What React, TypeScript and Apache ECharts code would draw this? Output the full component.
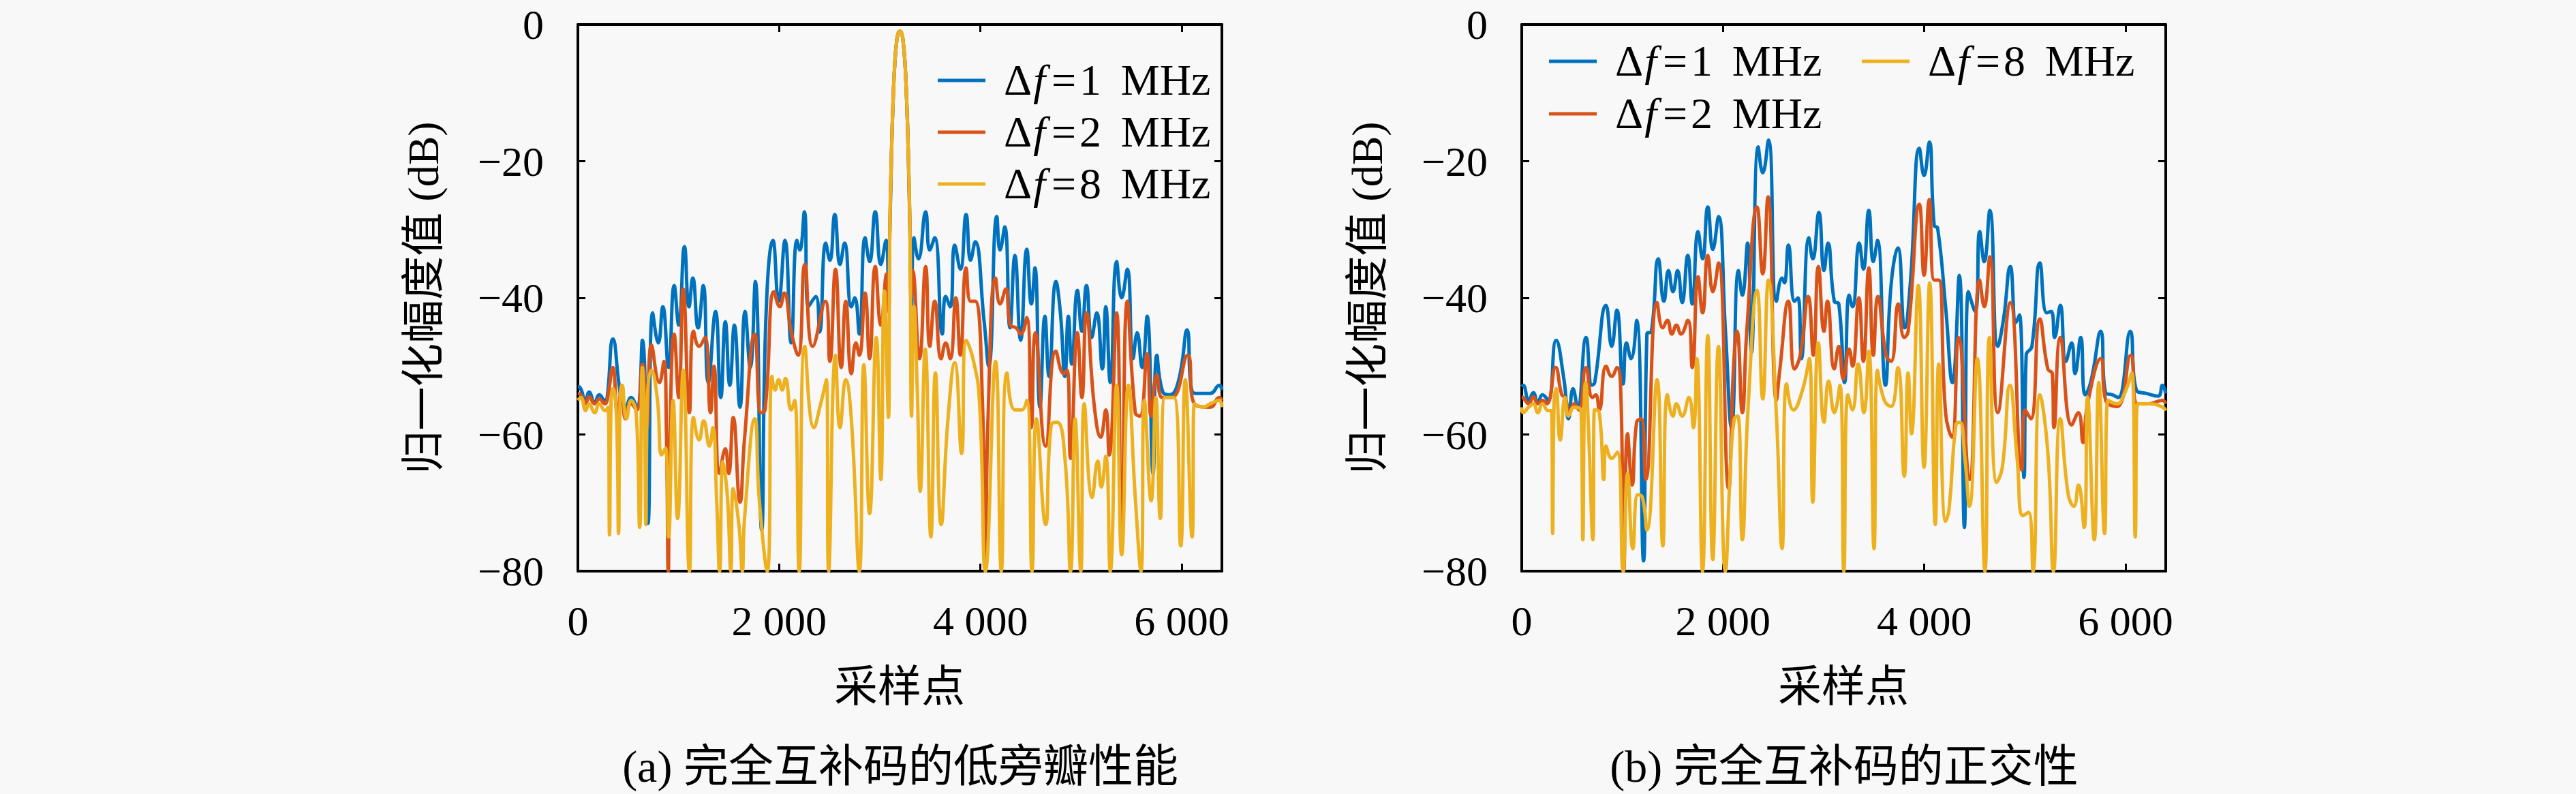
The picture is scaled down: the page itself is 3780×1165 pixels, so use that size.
import React, { useEffect, useRef } from "react";
import * as echarts from "echarts";

// ---- data: [sample index, normalized amplitude dB] ----
const seriesNames = ["Δf=1 MHz", "Δf=2 MHz", "Δf=8 MHz"];
const seriesColors = ["#0072BD", "#D95319", "#EDB120"];

const xTicks = [0, 2000, 4000, 6000];
const yTicks = [-80, -60, -40, -20, 0];

// main lobe shared by all three curves in (a)
const mainLobe = [
  [3100, -30], [3118, -18], [3133, -11], [3150, -5.5], [3170, -2.2], [3185, -1.2], [3200, -1],
  [3215, -1.2], [3230, -2.2], [3250, -5.5], [3267, -11], [3282, -18], [3300, -30],
];

// (a) 完全互补码的低旁瓣性能
const aDf1Left = [
  [0, -53], [20, -53.1], [77, -55], [111, -53.8], [167, -55.3], [212, -54.2], [269, -55], [291, -54.6],
  [348, -46], [427, -54.5], [472, -56], [528, -54.6], [585, -56], [641, -46.2], [697, -73], [743, -42.2],
  [799, -46.6], [844, -41.3], [901, -50.2], [957, -38.2], [1002, -44], [1059, -32.5], [1104, -41.3],
  [1142, -37.1], [1194, -44.4], [1246, -38.2], [1296, -52.4], [1368, -42], [1420, -54.6], [1465, -43.5],
  [1510, -52.8], [1555, -44], [1611, -56], [1661, -42], [1713, -50.2], [1763, -37.6], [1826, -74],
  [1871, -42], [1939, -31.6], [1995, -40.5], [2058, -31.6], [2119, -46.6], [2176, -31.6], [2205, -33],
  [2251, -27.4], [2290, -41.3], [2364, -39.8], [2402, -45], [2463, -32], [2504, -34.5], [2553, -27.8],
  [2605, -35.1], [2650, -32], [2718, -41.3], [2752, -40], [2797, -45.3], [2854, -31.2], [2899, -34.7],
  [2955, -27.4], [3011, -35.1], [3063, -31.6], [3085, -37],
];
const aDf1Right = [
  [3316, -41.3], [3339, -31.2], [3384, -34.3], [3456, -27.4], [3497, -33], [3546, -31.2], [3621, -45.3],
  [3655, -39.8], [3700, -41.3], [3745, -32.3], [3801, -35.8], [3858, -27.8], [3903, -34.5], [3948, -31.8],
  [4038, -43.6], [4083, -50], [4163, -28.1], [4196, -33], [4242, -29.6], [4294, -44.4], [4343, -33.8],
  [4400, -46.2], [4461, -32.9], [4506, -40.9], [4542, -35.6], [4592, -56], [4641, -42.7], [4682, -51.5],
  [4750, -37.6], [4795, -42.2], [4840, -51.5], [4874, -42.7], [4908, -49.7], [4964, -38.9], [5009, -44.9],
  [5054, -38.2], [5106, -45.8], [5156, -42.2], [5212, -50.4], [5246, -41.3], [5291, -52.4], [5354, -34.7],
  [5404, -40], [5460, -35.8], [5517, -48.9], [5558, -45.1], [5607, -50.2], [5657, -42.7], [5716, -65.7],
  [5754, -48.4], [5810, -53.7], [5878, -54.2], [5968, -52.2], [6054, -44.7], [6104, -53.7], [6171, -54],
  [6284, -54], [6375, -52.8], [6400, -53.5],
];

const aDf2Left = [
  [0, -54], [30, -54.2], [77, -55.5], [111, -54.5], [167, -55.5], [212, -54.8], [269, -55.5], [291, -55],
  [348, -50.2], [393, -56.8], [438, -52.8], [472, -57.7], [528, -55.5], [585, -56.4], [641, -49.7],
  [686, -59], [731, -46.9], [810, -52.4], [855, -49.3], [880, -60], [898, -80], [915, -60], [957, -45.3],
  [1002, -54.6], [1047, -38.7], [1108, -56.8], [1149, -44.9], [1205, -47.1], [1262, -45.8], [1318, -56.8],
  [1352, -50], [1408, -65.7], [1465, -62.1], [1499, -65.7], [1544, -57.5], [1611, -69.9], [1656, -60.6],
  [1758, -45.3], [1819, -56.8], [1860, -56.4], [1950, -39.1], [2006, -41.3], [2051, -39.3], [2119, -44.9],
  [2188, -48.4], [2255, -35.1], [2334, -47.1], [2459, -40.5], [2504, -49.3], [2560, -35.8], [2617, -50.2],
  [2662, -40.5], [2718, -51.1], [2763, -46.6], [2797, -48.4], [2854, -39.3], [2899, -48.9], [2955, -35.4],
  [3011, -44], [3068, -36.5], [3088, -42],
];
const aDf2Right = [
  [3312, -40], [3327, -36], [3395, -48.9], [3456, -35.4], [3497, -47.1], [3546, -40.5], [3610, -48.9],
  [3655, -46.6], [3700, -48.9], [3756, -40], [3801, -48.4], [3858, -35.6], [3903, -40.5], [3948, -40.5],
  [4020, -55], [4050, -80], [4075, -58], [4151, -37.1], [4196, -40.9], [4253, -38.7], [4298, -44],
  [4355, -44.4], [4400, -45.3], [4461, -42.9], [4506, -59], [4546, -45.1], [4648, -61.7], [4750, -47.8],
  [4829, -51.1], [4862, -50.6], [4896, -63.5], [4964, -45.1], [5009, -54.6], [5054, -42.2], [5133, -56],
  [5196, -60.4], [5246, -56.4], [5280, -63], [5354, -42.2], [5404, -76], [5460, -40.5], [5539, -56.8],
  [5585, -57.3], [5657, -48.2], [5697, -57.3], [5754, -51.3], [5810, -54.6], [5900, -54.6], [6059, -48.4],
  [6126, -55.5], [6284, -56], [6375, -54.6], [6400, -55],
];

const aDf8Left = [
  [0, -55], [30, -54.6], [77, -56.5], [111, -55.5], [167, -56.8], [212, -55.5], [269, -56.5], [300, -56],
  [314, -74.7], [330, -55], [348, -53.3], [385, -58], [404, -74.5], [418, -56], [438, -52.8], [483, -57.7],
  [528, -55], [580, -57], [614, -73.6], [641, -50.2], [662, -58], [675, -73.2], [690, -55], [731, -50.6],
  [788, -54.6], [833, -63], [870, -62], [901, -75], [946, -55], [991, -72.3], [1047, -50.6], [1108, -80],
  [1149, -57.5], [1205, -60.8], [1250, -58], [1307, -61.7], [1341, -59], [1380, -70], [1408, -80],
  [1440, -64], [1465, -66], [1490, -70], [1520, -80], [1544, -67.9], [1600, -73.2], [1634, -80],
  [1656, -72.3], [1758, -57.7], [1803, -69.6], [1882, -80], [1928, -51.5], [1960, -53.5], [1995, -52],
  [2030, -53.5], [2063, -51.8], [2119, -56.4], [2154, -55], [2199, -80], [2255, -47.1], [2346, -59],
  [2413, -55.5], [2470, -52], [2492, -80], [2560, -48.4], [2605, -59], [2662, -52], [2718, -57.9],
  [2797, -80], [2842, -49.8], [2899, -71.6], [2966, -45.8], [3011, -66.6], [3045, -39], [3086, -57.5],
];
const aDf8Right = [
  [3316, -57.3], [3339, -41.3], [3373, -53.7], [3402, -68.3], [3452, -47.5], [3508, -75], [3553, -51],
  [3610, -73.2], [3677, -57.9], [3745, -49.5], [3813, -62.8], [3858, -46.2], [3926, -48.9], [3990, -55],
  [4050, -80], [4151, -49.3], [4208, -80], [4264, -51], [4343, -56.4], [4411, -56.4], [4461, -55],
  [4513, -80], [4558, -57.7], [4648, -73.2], [4704, -58.6], [4761, -58.2], [4840, -63.5], [4896, -80],
  [4941, -57.7], [4998, -80], [5032, -55.5], [5111, -69.2], [5167, -63.9], [5201, -67.7], [5246, -63.2],
  [5291, -80], [5354, -52.8], [5404, -77.6], [5472, -52.8], [5539, -69.2], [5596, -80], [5630, -55],
  [5697, -69.7], [5743, -54.6], [5788, -72.3], [5833, -54.6], [5923, -54.6], [5991, -76.3], [6036, -52],
  [6104, -75], [6126, -55.5], [6216, -56], [6284, -55.5], [6375, -55], [6400, -56],
];

// (b) 完全互补码的正交性
const bDf1 = [
  [0, -53], [14, -52.8], [70, -55], [115, -53.9], [160, -55.3], [206, -54.2], [262, -55], [341, -46.2],
  [420, -52], [465, -57.7], [510, -53.3], [555, -56], [639, -45.8], [698, -52.8], [725, -52.4], [838, -41.1],
  [894, -47.1], [946, -41.8], [1007, -52.6], [1041, -46.6], [1086, -48.9], [1142, -43.3], [1210, -78.5],
  [1244, -45.3], [1289, -44.9], [1357, -34.3], [1413, -40.5], [1458, -36], [1503, -39.1], [1549, -36],
  [1594, -40.7], [1650, -33.8], [1695, -40.9], [1752, -30.3], [1797, -34.3], [1849, -26.7], [1899, -32.9],
  [1955, -28.1], [2025, -45], [2085, -59], [2154, -36], [2192, -39.6], [2244, -32], [2282, -48],
  [2350, -17.9], [2395, -21.7], [2452, -16.9], [2531, -40.5], [2587, -37.1], [2610, -37.8], [2650, -32.3],
  [2711, -40.5], [2745, -40], [2779, -48.9], [2853, -31.2], [2892, -34.3], [2953, -27.5], [3004, -36],
  [3043, -32], [3106, -40.5], [3151, -40.9], [3208, -52.4], [3253, -39.6], [3287, -41.3], [3354, -32],
  [3395, -35.8], [3449, -27.2], [3494, -34.7], [3535, -31.6], [3614, -52.8], [3670, -38.2], [3738, -32.7],
  [3806, -44.4], [3862, -37.8], [3952, -18.1], [3998, -22.1], [4050, -17.2], [4099, -29.4], [4133, -29.8],
  [4212, -41.3], [4280, -52.4], [4348, -36.7], [4399, -73.6], [4438, -39.1], [4506, -42], [4551, -30.3],
  [4596, -34.7], [4652, -27.2], [4731, -47.1], [4788, -43.1], [4855, -35.4], [4912, -43.6], [4946, -42.5],
  [4991, -66.3], [5013, -48.4], [5070, -47.1], [5149, -34.9], [5217, -42.2], [5262, -42], [5296, -45.8],
  [5352, -41.1], [5408, -49.3], [5465, -46.6], [5499, -51.1], [5555, -45.8], [5600, -54.2], [5657, -52.2],
  [5754, -44.9], [5803, -53.9], [5871, -54.2], [5927, -54.6], [6047, -44.9], [6108, -53.5], [6210, -54],
  [6323, -54.4], [6368, -52.8], [6400, -54],
];

const bDf2 = [
  [0, -54.5], [14, -54.6], [70, -55.5], [115, -54.5], [160, -55.5], [206, -55], [250, -55.5], [337, -50.2],
  [398, -54.2], [431, -54.6], [476, -56.8], [522, -55.5], [567, -56.4], [639, -50.2], [702, -54.6],
  [736, -54.2], [770, -56.4], [838, -50], [894, -51.5], [946, -50.2], [984, -53.7], [1014, -80],
  [1052, -59.9], [1097, -67.4], [1142, -58.2], [1188, -57.7], [1233, -66.6], [1345, -40.7], [1402, -44.4],
  [1447, -43.3], [1492, -45.3], [1537, -44], [1582, -45.3], [1650, -43.3], [1695, -50.2], [1752, -36.9],
  [1797, -42.2], [1849, -33.8], [1899, -39.1], [1955, -34.9], [2056, -67.9], [2105, -50], [2140, -44.9],
  [2192, -56.8], [2237, -44.7], [2339, -26.7], [2395, -36.5], [2447, -25.2], [2531, -55], [2564, -50.6],
  [2650, -40.5], [2711, -50.4], [2767, -48.4], [2847, -39.8], [2898, -48.4], [2948, -35.4], [3004, -44.9],
  [3038, -40.5], [3106, -50.4], [3151, -47.1], [3196, -51.9], [3253, -47.5], [3287, -50], [3350, -40],
  [3395, -49.3], [3449, -35.6], [3494, -48.4], [3539, -39.8], [3621, -48.4], [3670, -49.3], [3743, -40.9],
  [3801, -45.8], [3840, -44.9], [3952, -26.3], [3998, -36.7], [4050, -25.6], [4099, -37.4], [4144, -37.4],
  [4212, -56.8], [4275, -60.4], [4341, -45.8], [4449, -66.6], [4551, -37.4], [4596, -41.3], [4652, -34],
  [4731, -56.8], [4855, -40.7], [4968, -65.2], [5002, -56.4], [5059, -57.7], [5149, -43.1], [5228, -50.4],
  [5273, -51.1], [5290, -59], [5352, -45.8], [5465, -58.6], [5532, -56.8], [5578, -61.2], [5623, -55.5],
  [5754, -48.9], [5803, -55], [5916, -55.9], [6052, -48.4], [6119, -55.5], [6232, -55.5], [6368, -55],
  [6400, -55.5],
];

const bDf8 = [
  [0, -56], [14, -56.8], [70, -56], [115, -55.5], [160, -56.8], [206, -55.5], [262, -56.5], [295, -56.5],
  [307, -74.5], [320, -56], [341, -53.3], [382, -60.8], [431, -54.6], [465, -57.3], [520, -56], [590, -56.5],
  [607, -75.4], [622, -55], [634, -52.4], [660, -58], [707, -75.4], [722, -56.4], [747, -56.4], [781, -58.2],
  [815, -66.6], [838, -61.7], [894, -63.5], [950, -62.6], [1007, -80], [1052, -65.7], [1104, -76.7],
  [1154, -68.8], [1199, -69.2], [1244, -74], [1345, -52], [1402, -76.3], [1447, -54.2], [1503, -57.3],
  [1537, -55.5], [1594, -57.3], [1661, -54.6], [1706, -59], [1740, -48.9], [1797, -80], [1849, -45.5],
  [1898, -78.3], [1955, -47.1], [2023, -80], [2080, -63], [2113, -57.7], [2147, -57.3], [2192, -75.4],
  [2248, -56.4], [2339, -38.9], [2395, -54.8], [2452, -37.4], [2531, -57.3], [2587, -76.7], [2632, -52.6],
  [2700, -56.4], [2790, -53.5], [2858, -48.9], [2892, -69.9], [2948, -46.6], [3004, -58.2], [3050, -52.2],
  [3106, -56.8], [3162, -52.8], [3201, -80], [3241, -54.2], [3287, -56.4], [3343, -49.7], [3400, -56.8],
  [3449, -47.8], [3501, -76.7], [3535, -50.6], [3603, -55], [3670, -55.9], [3738, -50.2], [3801, -66.1],
  [3840, -51], [3873, -59.9], [3941, -38.2], [3998, -64.8], [4054, -37.8], [4110, -73.2], [4144, -49.7],
  [4212, -72.7], [4246, -71], [4314, -58.6], [4354, -58.2], [4404, -63.5], [4449, -70.5], [4528, -48.9],
  [4603, -80], [4648, -45.8], [4720, -67], [4776, -64.8], [4851, -52.8], [4923, -63.5], [4980, -71.9],
  [5036, -71.4], [5081, -80], [5149, -54.2], [5228, -62.6], [5284, -80], [5352, -57.7], [5431, -68.8],
  [5487, -70.5], [5532, -67.4], [5589, -73.6], [5623, -54.6], [5690, -75.4], [5735, -52.4], [5792, -74.5],
  [5826, -55], [5916, -55.5], [5984, -54.2], [6063, -51], [6097, -75], [6119, -55.5], [6232, -55.5],
  [6368, -56], [6400, -56.5],
];

const SERIF = "'Liberation Serif', 'Noto Sans CJK SC', serif";
const FS = 62;

const xLabel = (v: number) => {
  if (!xTicks.includes(v)) return "";
  return v === 0 ? "0" : `${v / 1000} 000`;
};
const yLabel = (v: number) => (yTicks.includes(v) ? (v < 0 ? `\u2212${-v}` : `${v}`) : "");

const axisLine = { show: true, onZero: false, lineStyle: { color: "#000", width: 4 } };
const axisTick = { show: true, inside: true, length: 11, lineStyle: { color: "#000", width: 3 } };

const makeX = (gridIndex: number, position: string, labels: boolean) => ({
  type: "value",
  gridIndex,
  position,
  min: 0,
  max: 6400,
  interval: 2000,
  axisLine,
  axisTick,
  splitLine: { show: false },
  axisLabel: labels
    ? { show: true, margin: 42, showMaxLabel: false, color: "#000", fontFamily: SERIF, fontSize: FS, formatter: xLabel }
    : { show: false },
});

const makeY = (gridIndex: number, position: string, labels: boolean) => ({
  type: "value",
  gridIndex,
  position,
  min: -80,
  max: 0,
  interval: 20,
  axisLine,
  axisTick,
  splitLine: { show: false },
  axisLabel: labels
    ? { show: true, margin: 50, color: "#000", fontFamily: SERIF, fontSize: FS, formatter: yLabel }
    : { show: false },
});

const legendFormatter = (name: string) => {
  const n = name.replace("Δf=", "").replace(" MHz", "");
  return `{d|Δ}{i|f}{e|=}{n|${n} \u2009MHz}`;
};

const legendStyle = {
  color: "#000",
  fontFamily: SERIF,
  fontSize: 64,
  rich: {
    d: { fontFamily: SERIF, fontSize: 64, color: "#000", padding: [0, 0, 0, 22] },
    i: { fontFamily: SERIF, fontSize: 64, color: "#000", fontStyle: "italic", padding: [0, 4, 0, 2] },
    e: { fontFamily: SERIF, fontSize: 64, color: "#000", padding: [0, 5] },
    n: { fontFamily: SERIF, fontSize: 64, color: "#000" },
  },
};

const makeLegend = (names: string[], left: number, top: number, gap: number) => ({
  show: true,
  orient: "vertical",
  left,
  top,
  padding: 0,
  itemGap: gap,
  icon: "rect",
  itemWidth: 70,
  itemHeight: 5,
  selectedMode: false,
  data: names,
  formatter: legendFormatter,
  textStyle: legendStyle,
});

const makeSeries = (name: string, color: string, data: number[][], axis: number) => ({
  name,
  type: "line",
  xAxisIndex: axis,
  yAxisIndex: axis,
  data,
  showSymbol: false,
  symbol: "none",
  smooth: 0.5,
  lineStyle: { color, width: 5 },
  itemStyle: { color },
  emphasis: { disabled: true },
});

const textEl = (text: string, x: number, y: number, size: number, rotation = 0) => ({
  type: "text",
  x,
  y,
  rotation,
  style: {
    text,
    fill: "#000",
    fontFamily: SERIF,
    fontSize: size,
    align: "center",
    verticalAlign: "middle",
  },
});

const App: React.FC = () => {
  const chartRef = useRef<HTMLDivElement>(null);

  useEffect(() => {
    if (!chartRef.current) return;
    const chart = echarts.init(chartRef.current, undefined, { renderer: "svg" });

    const aData = [
      [...aDf1Left, ...mainLobe, ...aDf1Right],
      [...aDf2Left, ...mainLobe, ...aDf2Right],
      [...aDf8Left, ...mainLobe, ...aDf8Right],
    ];
    const bData = [bDf1, bDf2, bDf8];

    const option = {
      animation: false,
      backgroundColor: "#f8f8f8",
      grid: [
        { left: 848, top: 36, width: 945, height: 802, show: false },
        { left: 2233, top: 36, width: 945, height: 802, show: false },
      ],
      // 0/1: (a) bottom/top, 2/3: (b) bottom/top
      xAxis: [makeX(0, "bottom", true), makeX(0, "top", false), makeX(1, "bottom", true), makeX(1, "top", false)],
      yAxis: [makeY(0, "left", true), makeY(0, "right", false), makeY(1, "left", true), makeY(1, "right", false)],
      legend: [
        makeLegend(seriesNames, 1376, 86, 12),
        makeLegend([seriesNames[0], seriesNames[1]], 2273, 58, 13),
        makeLegend([seriesNames[2]], 2732, 58, 13),
      ],
      series: [
        ...seriesNames.map((n, i) => makeSeries(n, seriesColors[i], aData[i], 0)),
        ...seriesNames.map((n, i) => makeSeries(n, seriesColors[i], bData[i], 2)),
      ],
      graphic: [
        textEl("归一化幅度值 (dB)", 621, 437, 64, Math.PI / 2),
        textEl("归一化幅度值 (dB)", 2006, 437, 64, Math.PI / 2),
        textEl("采样点", 1320, 1007, 64),
        textEl("采样点", 2705, 1007, 64),
        textEl("(a) 完全互补码的低旁瓣性能", 1321, 1124, 66),
        textEl("(b) 完全互补码的正交性", 2706, 1124, 66),
      ],
    };

    chart.setOption(option as any);

    return () => {
      if (!chart.isDisposed()) chart.dispose();
    };
  }, []);

  return (
    <div
      ref={chartRef}
      style={{ position: "fixed", left: 0, top: 0, width: "3780px", height: "1165px" }}
    />
  );
};

export default App;
